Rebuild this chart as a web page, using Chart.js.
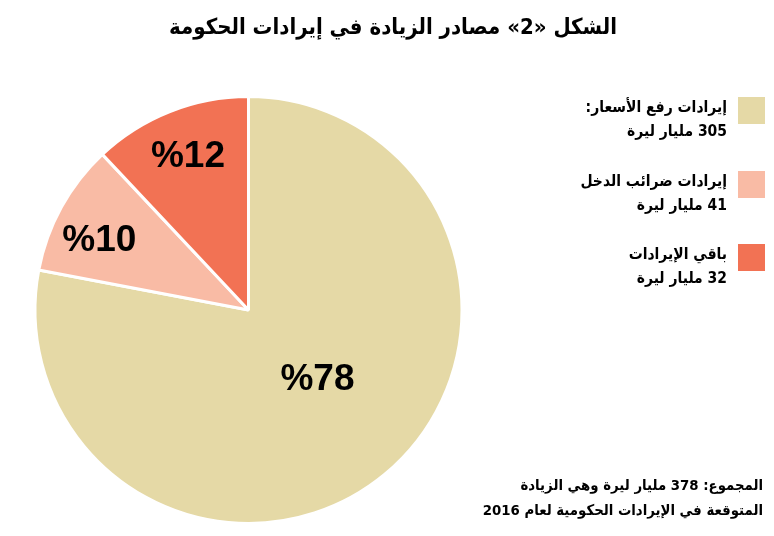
<!DOCTYPE html>
<html lang="ar">
<head>
<meta charset="utf-8">
<script src="https://cdn.jsdelivr.net/npm/chart.js@4.4.1/dist/chart.umd.min.js"></script>
<style>
body{margin:0;background:#fff;font-family:"DejaVu Sans Condensed","DejaVu Sans",sans-serif;font-stretch:condensed;color:#000}
#wrap{position:relative;width:774px;height:536px;overflow:hidden}
#pie{position:absolute;left:0;top:0}
#title{position:absolute;top:14px;left:6px;width:774px;text-align:center;font-weight:bold;font-size:22px;direction:rtl}
#legend{position:absolute;top:95px;right:9px;direction:rtl}
.item{display:flex;align-items:flex-start;height:73.5px}
.sw{width:27px;height:27px;margin-top:2px;margin-left:11px;flex:none}
.txt{font-weight:bold;font-size:15.5px;line-height:24px;text-align:right}
#foot{position:absolute;top:472px;right:11px;direction:rtl;text-align:right;font-weight:bold;font-size:14.8px;line-height:25px}
</style>
</head>
<body>
<div id="wrap">
<canvas id="pie" width="774" height="536"></canvas>
<div id="title">الشكل «2» مصادر الزيادة في إيرادات الحكومة</div>
<div id="legend"></div>
<div id="foot">المجموع: 378 مليار ليرة وهي الزيادة<br>المتوقعة في الإيرادات الحكومية لعام 2016</div>
</div>
<script>
// DATA

const categories=["إيرادات رفع الأسعار:","إيرادات ضرائب الدخل","باقي الإيرادات"]
const amounts=[305,41,32]
const shares=[78,10,12]
const colors=["#e5d9a6","#f9bba5","#f27254"]


// LEGEND

const legend=document.getElementById("legend")

categories.forEach((c,i)=>{

const item=document.createElement("div")
item.className="item"

const sw=document.createElement("div")
sw.className="sw"
sw.style.background=colors[i]

const txt=document.createElement("div")
txt.className="txt"
txt.innerHTML=c+"<br>"+amounts[i]+" مليار ليرة"

item.appendChild(sw)
item.appendChild(txt)
legend.appendChild(item)

})


// PERCENT LABELS ON SLICES

const pctLabels={

id:"pctLabels",

afterDatasetsDraw(chart,args,opts){

const ctx=chart.ctx
const meta=chart.getDatasetMeta(0)

ctx.save()
ctx.direction="ltr"
ctx.font='bold 37px "Liberation Sans", Arial, sans-serif'
ctx.fillStyle="#000"
ctx.textAlign="center"
ctx.textBaseline="middle"

meta.data.forEach((arc,i)=>{

const p=arc.getProps(["x","y","startAngle","endAngle","outerRadius"],true)
const a=(p.startAngle+p.endAngle)/2+opts.shift[i]*Math.PI/180
const r=p.outerRadius*opts.radius[i]

ctx.fillText("%"+shares[i],p.x+Math.cos(a)*r,p.y+Math.sin(a)*r)

})

ctx.restore()

}

}


// PIE

new Chart(document.getElementById("pie"),{

type:"pie",

data:{
labels:categories,
datasets:[{
data:shares,
backgroundColor:colors,
borderColor:"#fff",
borderWidth:3
}]
},

options:{
responsive:false,
animation:false,
layout:{padding:{left:33,right:310,top:95,bottom:11}},
plugins:{
legend:{display:false},
tooltip:{enabled:false},
pctLabels:{radius:[0.46,0.77,0.77],shift:[-5,-4,0]}
}
},

plugins:[pctLabels]

})
</script>
</body>
</html>
